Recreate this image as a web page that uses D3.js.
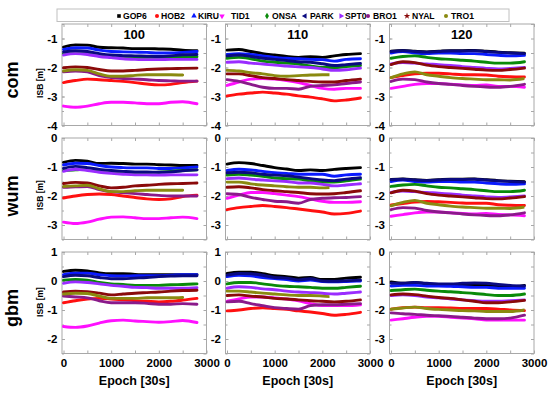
<!DOCTYPE html>
<html>
<head>
<meta charset="utf-8">
<script src="https://cdn.jsdelivr.net/npm/d3@7/dist/d3.min.js"></script>
<style>
  html, body { margin: 0; padding: 0; background: #fff; }
  svg { display: block; font-family: "Liberation Sans", Arial, sans-serif; font-weight: bold; }
</style>
</head>
<body>
<svg id="chart" width="550" height="393"></svg>
<script>
// ---------------- DATA ----------------
const epochs = [0, 250, 500, 750, 1000, 1250, 1500, 1750, 2000, 2250, 2500, 2800];
const stations = ["GOP6", "HOB2", "KIRU", "TID1", "ONSA", "PARK", "SPT0", "BRO1", "NYAL", "TRO1"];
const products = ["com", "wum", "gbm"];
const cutoffs = ["100", "110", "120"];
const xTickLabels = [0, 1000, 2000, 3000];
const troEnd = [2540, 2150, 2800]; // last epoch of TRO1 per column

// rows follow the station order
const com100 = [
  [-1.30,-1.22,-1.23,-1.30,-1.32,-1.33,-1.35,-1.35,-1.36,-1.37,-1.40,-1.42],
  [-2.52,-2.45,-2.40,-2.42,-2.45,-2.48,-2.52,-2.57,-2.60,-2.58,-2.52,-2.47],
  [-1.38,-1.32,-1.33,-1.40,-1.45,-1.46,-1.47,-1.48,-1.50,-1.50,-1.48,-1.45],
  [-3.33,-3.37,-3.33,-3.25,-3.20,-3.20,-3.22,-3.25,-3.25,-3.20,-3.18,-3.25],
  [-1.52,-1.45,-1.48,-1.55,-1.60,-1.63,-1.65,-1.65,-1.65,-1.65,-1.64,-1.63],
  [-1.46,-1.42,-1.45,-1.52,-1.57,-1.59,-1.60,-1.61,-1.62,-1.60,-1.56,-1.55],
  [-1.57,-1.52,-1.55,-1.62,-1.66,-1.70,-1.72,-1.73,-1.73,-1.72,-1.72,-1.72],
  [-2.15,-2.12,-2.15,-2.28,-2.35,-2.38,-2.40,-2.42,-2.45,-2.46,-2.47,-2.47],
  [-2.01,-1.98,-2.00,-2.07,-2.12,-2.12,-2.10,-2.07,-2.05,-2.04,-2.03,-2.02],
  [-2.12,-2.08,-2.10,-2.22,-2.30,-2.30,-2.27,-2.25,-2.25,-2.25,-2.26,null]
];
const com110 = [
  [-1.40,-1.38,-1.45,-1.52,-1.57,-1.62,-1.65,-1.63,-1.65,-1.60,-1.55,-1.52],
  [-2.98,-2.92,-2.88,-2.85,-2.88,-2.92,-2.98,-3.02,-3.08,-3.15,-3.12,-3.05],
  [-1.55,-1.52,-1.55,-1.60,-1.65,-1.68,-1.70,-1.72,-1.73,-1.78,-1.72,-1.70],
  [-2.62,-2.50,-2.40,-2.38,-2.40,-2.45,-2.52,-2.62,-2.72,-2.75,-2.72,-2.72],
  [-1.68,-1.65,-1.70,-1.78,-1.82,-1.85,-1.88,-1.95,-2.00,-2.00,-1.97,-1.93],
  [-1.60,-1.57,-1.62,-1.68,-1.72,-1.76,-1.80,-1.82,-1.87,-1.93,-1.90,-1.86],
  [-1.82,-1.80,-1.85,-1.88,-1.92,-1.95,-1.98,-2.00,-2.05,-2.10,-2.08,-2.02],
  [-2.42,-2.48,-2.58,-2.68,-2.72,-2.72,-2.75,-2.65,-2.62,-2.60,-2.55,-2.50],
  [-2.22,-2.22,-2.28,-2.35,-2.38,-2.42,-2.45,-2.48,-2.50,-2.50,-2.45,-2.40],
  [-2.10,-2.12,-2.18,-2.22,-2.28,-2.30,-2.28,-2.26,-2.25,-2.25,null,null]
];
const com120 = [
  [-1.44,-1.41,-1.44,-1.46,-1.44,-1.42,-1.42,-1.41,-1.44,-1.47,-1.49,-1.51],
  [-2.35,-2.28,-2.22,-2.20,-2.20,-2.22,-2.25,-2.25,-2.26,-2.30,-2.32,-2.33],
  [-1.50,-1.45,-1.50,-1.52,-1.50,-1.50,-1.52,-1.52,-1.55,-1.58,-1.60,-1.58],
  [-2.72,-2.65,-2.58,-2.55,-2.55,-2.58,-2.60,-2.62,-2.60,-2.65,-2.65,-2.68],
  [-1.68,-1.62,-1.60,-1.65,-1.70,-1.72,-1.75,-1.78,-1.82,-1.85,-1.85,-1.80],
  [-1.45,-1.42,-1.45,-1.47,-1.45,-1.43,-1.43,-1.42,-1.45,-1.48,-1.50,-1.52],
  [-1.88,-1.83,-1.85,-1.88,-1.90,-1.93,-1.97,-2.00,-2.03,-2.05,-2.03,-2.00],
  [-2.48,-2.40,-2.42,-2.50,-2.55,-2.58,-2.62,-2.65,-2.67,-2.68,-2.65,-2.58],
  [-1.90,-1.80,-1.83,-1.92,-1.97,-2.00,-2.03,-2.06,-2.09,-2.10,-2.07,-2.02],
  [-2.35,-2.22,-2.15,-2.25,-2.30,-2.35,-2.38,-2.40,-2.42,-2.42,-2.43,-2.38]
];
const wum100 = [
  [-0.84,-0.77,-0.80,-0.88,-0.87,-0.88,-0.90,-0.90,-0.92,-0.93,-0.95,-0.95],
  [-2.07,-2.00,-1.95,-1.93,-1.95,-2.00,-2.05,-2.10,-2.12,-2.10,-2.02,-1.97],
  [-0.93,-0.87,-0.88,-0.95,-1.00,-1.02,-1.03,-1.03,-1.05,-1.05,-1.03,-1.00],
  [-2.90,-2.95,-2.90,-2.80,-2.73,-2.72,-2.75,-2.78,-2.78,-2.75,-2.73,-2.78],
  [-1.12,-1.10,-1.07,-1.12,-1.17,-1.20,-1.20,-1.20,-1.18,-1.15,-1.12,-1.10],
  [-1.05,-0.98,-1.02,-1.08,-1.12,-1.15,-1.17,-1.17,-1.18,-1.17,-1.13,-1.10],
  [-1.15,-1.08,-1.12,-1.18,-1.22,-1.25,-1.27,-1.27,-1.28,-1.27,-1.27,-1.27],
  [-1.70,-1.68,-1.67,-1.78,-1.85,-1.88,-1.92,-1.95,-1.98,-2.00,-2.00,-2.00],
  [-1.57,-1.53,-1.55,-1.65,-1.72,-1.70,-1.65,-1.63,-1.60,-1.58,-1.57,-1.55],
  [-1.67,-1.65,-1.63,-1.75,-1.85,-1.85,-1.82,-1.80,-1.80,-1.80,-1.80,null]
];
const wum110 = [
  [-0.90,-0.85,-0.88,-0.95,-1.02,-1.07,-1.12,-1.10,-1.12,-1.08,-1.05,-1.02],
  [-2.47,-2.40,-2.36,-2.33,-2.36,-2.40,-2.45,-2.50,-2.55,-2.62,-2.60,-2.52],
  [-1.12,-1.08,-1.10,-1.15,-1.20,-1.22,-1.25,-1.25,-1.25,-1.32,-1.27,-1.25],
  [-2.08,-1.97,-1.88,-1.88,-1.92,-1.97,-2.02,-2.10,-2.18,-2.22,-2.22,-2.20],
  [-1.28,-1.25,-1.28,-1.32,-1.38,-1.40,-1.42,-1.48,-1.52,-1.52,-1.48,-1.42],
  [-1.20,-1.18,-1.20,-1.25,-1.28,-1.30,-1.35,-1.40,-1.45,-1.47,-1.42,-1.37],
  [-1.40,-1.38,-1.42,-1.45,-1.48,-1.50,-1.55,-1.55,-1.60,-1.65,-1.62,-1.58],
  [-1.92,-1.95,-2.05,-2.12,-2.18,-2.20,-2.25,-2.12,-2.08,-2.06,-2.05,-2.02],
  [-1.70,-1.68,-1.72,-1.78,-1.82,-1.85,-1.88,-1.92,-1.93,-1.92,-1.88,-1.82],
  [-1.52,-1.52,-1.58,-1.62,-1.65,-1.68,-1.70,-1.70,-1.72,-1.70,null,null]
];
const wum120 = [
  [-1.43,-1.41,-1.44,-1.46,-1.44,-1.42,-1.42,-1.41,-1.44,-1.47,-1.49,-1.51],
  [-2.31,-2.26,-2.21,-2.19,-2.20,-2.22,-2.24,-2.25,-2.25,-2.30,-2.32,-2.33],
  [-1.50,-1.45,-1.50,-1.52,-1.50,-1.50,-1.52,-1.52,-1.55,-1.58,-1.60,-1.58],
  [-2.70,-2.64,-2.58,-2.55,-2.55,-2.58,-2.60,-2.62,-2.60,-2.64,-2.65,-2.68],
  [-1.67,-1.62,-1.60,-1.65,-1.70,-1.72,-1.75,-1.78,-1.82,-1.85,-1.85,-1.80],
  [-1.44,-1.42,-1.45,-1.47,-1.45,-1.43,-1.43,-1.42,-1.45,-1.48,-1.50,-1.52],
  [-1.88,-1.83,-1.85,-1.88,-1.90,-1.93,-1.97,-2.00,-2.03,-2.05,-2.03,-2.00],
  [-2.47,-2.40,-2.42,-2.50,-2.55,-2.58,-2.62,-2.65,-2.67,-2.68,-2.65,-2.58],
  [-1.89,-1.80,-1.83,-1.92,-1.97,-2.00,-2.03,-2.06,-2.09,-2.10,-2.07,-2.02],
  [-2.34,-2.22,-2.15,-2.25,-2.30,-2.35,-2.38,-2.40,-2.42,-2.42,-2.43,-2.38]
];
const gbm100 = [
  [0.33,0.37,0.35,0.28,0.25,0.25,0.23,0.22,0.22,0.22,0.22,0.22],
  [-0.75,-0.68,-0.62,-0.60,-0.62,-0.65,-0.68,-0.70,-0.72,-0.70,-0.66,-0.60],
  [0.22,0.27,0.27,0.22,0.18,0.17,0.18,0.18,0.18,0.20,0.22,0.22],
  [-1.57,-1.60,-1.55,-1.45,-1.37,-1.35,-1.38,-1.40,-1.42,-1.40,-1.36,-1.43],
  [0.03,0.05,0.03,-0.05,-0.10,-0.12,-0.15,-0.15,-0.15,-0.13,-0.12,-0.10],
  [0.15,0.20,0.18,0.12,0.08,0.08,0.10,0.12,0.15,0.17,0.18,0.18],
  [-0.08,-0.03,-0.05,-0.10,-0.15,-0.18,-0.22,-0.23,-0.25,-0.25,-0.25,-0.23],
  [-0.52,-0.55,-0.58,-0.68,-0.75,-0.75,-0.75,-0.77,-0.80,-0.80,-0.78,-0.80],
  [-0.38,-0.35,-0.37,-0.42,-0.48,-0.45,-0.42,-0.40,-0.38,-0.35,-0.33,-0.32],
  [-0.45,-0.42,-0.43,-0.52,-0.60,-0.60,-0.60,-0.58,-0.58,-0.58,-0.57,null]
];
const gbm110 = [
  [0.26,0.30,0.30,0.25,0.18,0.15,0.10,0.12,0.05,0.05,0.10,0.13],
  [-1.03,-1.00,-0.95,-0.92,-0.95,-0.98,-1.03,-1.07,-1.12,-1.18,-1.15,-1.08],
  [0.15,0.20,0.18,0.12,0.08,0.05,0.00,0.03,-0.02,-0.03,-0.02,0.00],
  [-0.70,-0.62,-0.55,-0.55,-0.58,-0.62,-0.68,-0.78,-0.85,-0.85,-0.85,-0.82],
  [-0.10,-0.05,-0.05,-0.10,-0.15,-0.18,-0.20,-0.22,-0.25,-0.25,-0.22,-0.18],
  [0.20,0.26,0.25,0.20,0.12,0.10,0.04,0.08,0.00,-0.01,0.01,0.03],
  [-0.25,-0.20,-0.22,-0.27,-0.30,-0.35,-0.38,-0.40,-0.42,-0.45,-0.42,-0.38],
  [-0.72,-0.70,-0.78,-0.85,-0.92,-0.95,-0.97,-0.85,-0.82,-0.82,-0.80,-0.78],
  [-0.50,-0.48,-0.52,-0.55,-0.60,-0.62,-0.65,-0.68,-0.70,-0.72,-0.70,-0.65],
  [-0.35,-0.35,-0.38,-0.42,-0.45,-0.48,-0.50,-0.50,-0.52,-0.55,null,null]
];
const gbm120 = [
  [-1.03,-1.08,-1.05,-1.10,-1.12,-1.12,-1.12,-1.15,-1.15,-1.18,-1.20,-1.15],
  [-1.97,-1.92,-1.90,-1.92,-1.92,-1.93,-1.95,-1.95,-1.95,-1.97,-2.00,-2.02],
  [-1.17,-1.15,-1.15,-1.17,-1.17,-1.18,-1.20,-1.22,-1.22,-1.25,-1.25,-1.25],
  [-2.35,-2.30,-2.25,-2.22,-2.22,-2.25,-2.28,-2.30,-2.35,-2.35,-2.35,-2.35],
  [-1.33,-1.30,-1.28,-1.32,-1.35,-1.37,-1.40,-1.43,-1.47,-1.50,-1.50,-1.45],
  [-1.08,-1.08,-1.05,-1.08,-1.10,-1.10,-1.08,-1.07,-1.08,-1.12,-1.15,-1.17],
  [-1.50,-1.48,-1.50,-1.55,-1.58,-1.62,-1.65,-1.68,-1.70,-1.70,-1.68,-1.65],
  [-2.10,-2.13,-2.15,-2.18,-2.20,-2.22,-2.25,-2.28,-2.30,-2.30,-2.28,-2.18],
  [-1.48,-1.45,-1.47,-1.52,-1.57,-1.60,-1.65,-1.70,-1.75,-1.75,-1.72,-1.67],
  [-1.97,-1.93,-1.90,-1.95,-1.98,-2.00,-2.02,-2.03,-2.05,-2.05,-2.05,-2.00]
];
// y ranges of each panel row/col (ISB [m])
const yRanges = [
  [[-4, -0.5], [-4, -0.5], [-4, -0.5]],
  [[-3.5, 0], [-3.5, 0], [-3.5, 0]],
  [[-2.5, 1], [-2.5, 1], [-3.5, 0]]
];
const panels = [[com100, com110, com120], [wum100, wum110, wum120], [gbm100, gbm110, gbm120]];

// ---------------- STYLE / LAYOUT ----------------
const colors = ["#000000", "#ff1010", "#0a1aff", "#ff10ff", "#0a8a0a", "#0a0a80", "#9a2cff", "#8a1a8a", "#8a0a0a", "#8a8a10"];
const symbols = [
  [d3.symbolSquare, 0], [d3.symbolCircle, 0], [d3.symbolTriangle, 0], [d3.symbolTriangle, 180],
  [d3.symbolDiamond, 0], [d3.symbolTriangle, -90], [d3.symbolTriangle, 90], [d3.symbolCircle, 0],
  [d3.symbolStar, 0], [d3.symbolCircle, 0]
];
const colX = [62, 225.5, 389.5], pw = 144.5;
const rowY = [24, 138, 252], ph = 101.5;
const frameColor = "#a8a8a8";

const svg = d3.select("#chart");
svg.append("rect").attr("width", 550).attr("height", 393).attr("fill", "#fff");

const x = d3.scaleLinear().domain([-32, 3000]).range([0, pw]);

const line = d3.line()
  .defined(d => d[1] !== null)
  .x(d => x(d[0]))
  .y(d => d[2](d[1]))
  .curve(d3.curveMonotoneX);

const defs = svg.append("defs");

panels.forEach((row, r) => {
  row.forEach((pdata, c) => {
    const g = svg.append("g").attr("transform", `translate(${colX[c]},${rowY[r]})`);
    const y = d3.scaleLinear().domain(yRanges[r][c]).range([ph, 0]);
    const [y0, y1] = yRanges[r][c];
    const intTicks = d3.range(Math.ceil(y0), Math.floor(y1) + 1);
    const halfTicks = d3.range(y0, y1 + 0.001, 0.5);

    const cid = `clip-${r}-${c}`;
    defs.append("clipPath").attr("id", cid).append("rect").attr("width", pw).attr("height", ph);
    const tid = `clipT-${r}-${c}`;
    defs.append("clipPath").attr("id", tid).append("rect").attr("width", x(troEnd[c])).attr("height", ph);

    g.append("rect").attr("width", pw).attr("height", ph)
      .attr("fill", "#fff").attr("stroke", frameColor).attr("stroke-width", 1);

    const xt = d3.range(0, 3001, 500);
    const axB = g.append("g").attr("transform", `translate(0,${ph})`)
      .call(d3.axisBottom(x).tickValues(xt).tickSize(-3).tickPadding(5.5)
        .tickFormat(d => (r === 2 && xTickLabels.includes(d)) ? String(d) : ""));
    const axT = g.append("g")
      .call(d3.axisTop(x).tickValues(xt).tickSize(-3).tickFormat(""));
    const axL = g.append("g")
      .call(d3.axisLeft(y).tickValues(intTicks).tickSize(-3).tickPadding(4.5).tickFormat(d => d3.format("d")(d).replace("−", "-")));
    const axLm = g.append("g")
      .call(d3.axisLeft(y).tickValues(halfTicks).tickSize(-2).tickFormat(""));
    const axR = g.append("g").attr("transform", `translate(${pw},0)`)
      .call(d3.axisRight(y).tickValues(halfTicks).tickSize(-3).tickFormat(""));
    [axB, axT, axL, axLm, axR].forEach(a => {
      a.select(".domain").remove();
      a.selectAll(".tick line").attr("stroke", frameColor);
      a.selectAll("text").attr("fill", "#000").attr("font-size", 11.5)
        .attr("font-family", "'Liberation Sans', Arial, sans-serif").attr("font-weight", "bold");
    });

    const lg = g.append("g").attr("clip-path", `url(#${cid})`);
    pdata.forEach((vals, si) => {
      const pts = epochs.map((e, i) => [e, vals[i], y]);
      const p = lg.append("path")
        .attr("d", line(pts))
        .attr("fill", "none")
        .attr("stroke", colors[si])
        .attr("stroke-width", 2.9)
        .attr("stroke-linejoin", "round")
        .attr("stroke-linecap", "round");
      if (stations[si] === "TRO1") {
        lg.append("g").attr("clip-path", `url(#${tid})`).node().appendChild(p.node());
      }
    });

    if (r === 0) {
      g.append("text").attr("x", pw / 2).attr("y", 15).attr("text-anchor", "middle")
        .attr("font-size", 13).text(cutoffs[c]);
    }
    if (r === 2) {
      g.append("text").attr("x", pw / 2).attr("y", 385 - rowY[r]).attr("text-anchor", "middle")
        .attr("font-size", 12.5).text("Epoch [30s]");
    }
  });
});

const rowLabelY = [80, 196, 308];
const isbY = [83, 195, 302];
products.forEach((p, r) => {
  svg.append("text").attr("transform", `translate(18,${rowLabelY[r]}) rotate(-90)`)
    .attr("text-anchor", "middle").attr("font-size", 18).text(p);
  svg.append("text").attr("transform", `translate(43,${isbY[r]}) rotate(-90)`)
    .attr("text-anchor", "middle").attr("font-size", 8.5).text("ISB [m]");
});

// Legend
const legMarkX = [119, 157, 194, 222, 267, 305, 341, 368, 407, 446];
const legTextX = [123, 161, 198, 231, 272, 310, 345, 373, 412, 451];
const leg = svg.append("g");
leg.append("rect").attr("x", 57).attr("y", 9).attr("width", 452).attr("height", 12.5)
  .attr("fill", "#fff").attr("stroke", "#c0c0c0");
stations.forEach((s, i) => {
  const [sym, rot] = symbols[i];
  leg.append("path")
    .attr("d", d3.symbol().type(sym).size(13)())
    .attr("transform", `translate(${legMarkX[i]},${16}) rotate(${rot})`)
    .attr("fill", colors[i]);
  leg.append("text").attr("x", legTextX[i]).attr("y", 18.6)
    .attr("font-size", 8.6).text(s);
});
</script>
</body>
</html>
